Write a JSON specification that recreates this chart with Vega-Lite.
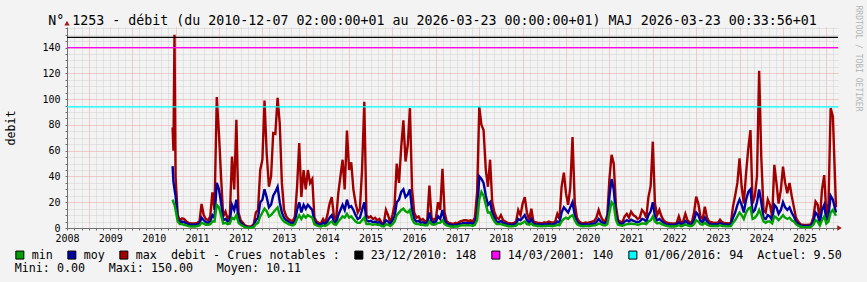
{
  "$schema": "https://vega.github.io/schema/vega-lite/v6.json",
  "width": 771,
  "height": 201,
  "autosize": {"type": "none"},
  "padding": {"left": 67, "top": 27, "right": 29, "bottom": 54},
  "background": "#f3f3f3",
  "config": {"view": {"stroke": null, "fill": "#ffffff"}, "font": "DejaVu Sans Mono"},
  "title": {
    "text": "N° 1253 - débit (du 2010-12-07 02:00:00+01 au 2026-03-23 00:00:00+01) MAJ 2026-03-23 00:33:56+01",
    "font": "DejaVu Sans Mono", "fontSize": 13.3, "fontWeight": "normal", "color": "#000000",
    "anchor": "middle", "frame": "group", "dx": -20, "dy": 24, "offset": 2
  },
  "datasets": {
    "flows": [
      {"date":"2010-12-07","max":78,"moy":48,"min":22},
      {"date":"2010-12-14","max":60,"moy":36,"min":20},
      {"date":"2010-12-23","max":150,"moy":30,"min":18},
      {"date":"2011-01-01","max":40,"moy":25,"min":14},
      {"date":"2011-01-19","max":10,"moy":7,"min":5},
      {"date":"2011-02-06","max":6,"moy":4.5,"min":3},
      {"date":"2011-02-25","max":7.5,"moy":5,"min":3},
      {"date":"2011-03-15","max":7,"moy":4.5,"min":2.5},
      {"date":"2011-04-02","max":5,"moy":3.5,"min":2},
      {"date":"2011-04-20","max":4,"moy":3,"min":1.5},
      {"date":"2011-05-09","max":3.5,"moy":2.5,"min":1.2},
      {"date":"2011-05-27","max":3.5,"moy":2.5,"min":1.2},
      {"date":"2011-06-14","max":3.5,"moy":2.5,"min":1.2},
      {"date":"2011-07-02","max":4,"moy":2.8,"min":1.5},
      {"date":"2011-07-21","max":5,"moy":3.5,"min":2},
      {"date":"2011-08-08","max":18.7,"moy":8,"min":4},
      {"date":"2011-08-26","max":10,"moy":6,"min":3.5},
      {"date":"2011-09-13","max":7,"moy":4.5,"min":2.5},
      {"date":"2011-10-02","max":6,"moy":4,"min":2.5},
      {"date":"2011-10-20","max":9,"moy":5,"min":3},
      {"date":"2011-11-07","max":27.7,"moy":10,"min":5},
      {"date":"2011-11-25","max":14,"moy":8,"min":5},
      {"date":"2011-12-14","max":101.6,"moy":35,"min":18},
      {"date":"2012-01-01","max":73.6,"moy":30,"min":16},
      {"date":"2012-01-19","max":40,"moy":20,"min":10},
      {"date":"2012-02-06","max":9,"moy":6,"min":3.5},
      {"date":"2012-02-25","max":12.7,"moy":7,"min":4},
      {"date":"2012-03-15","max":7,"moy":5,"min":3},
      {"date":"2012-04-02","max":10,"moy":6,"min":3.5},
      {"date":"2012-04-20","max":55.5,"moy":18,"min":8},
      {"date":"2012-05-09","max":30,"moy":14,"min":7},
      {"date":"2012-05-27","max":84,"moy":22,"min":10},
      {"date":"2012-06-14","max":12,"moy":7,"min":4},
      {"date":"2012-07-02","max":6,"moy":4,"min":2.5},
      {"date":"2012-07-21","max":4,"moy":2.5,"min":1.5},
      {"date":"2012-08-08","max":2,"moy":1.2,"min":0.5},
      {"date":"2012-08-26","max":1.5,"moy":0.8,"min":0.3},
      {"date":"2012-09-13","max":1.2,"moy":0.6,"min":0.2},
      {"date":"2012-10-02","max":1.5,"moy":0.8,"min":0.3},
      {"date":"2012-10-20","max":3,"moy":1.8,"min":0.8},
      {"date":"2012-11-07","max":12,"moy":6,"min":3},
      {"date":"2012-11-25","max":14,"moy":8,"min":4},
      {"date":"2012-12-14","max":45,"moy":20,"min":9},
      {"date":"2013-01-01","max":53,"moy":22,"min":12},
      {"date":"2013-01-19","max":99,"moy":30,"min":15},
      {"date":"2013-02-06","max":58,"moy":24,"min":13},
      {"date":"2013-02-25","max":32,"moy":16,"min":9},
      {"date":"2013-03-15","max":40,"moy":18,"min":10},
      {"date":"2013-04-02","max":73.6,"moy":25,"min":12},
      {"date":"2013-04-20","max":73,"moy":28,"min":14},
      {"date":"2013-05-09","max":101,"moy":32,"min":16},
      {"date":"2013-05-27","max":81,"moy":20,"min":10},
      {"date":"2013-06-14","max":35,"moy":12,"min":7},
      {"date":"2013-07-02","max":14,"moy":8,"min":5},
      {"date":"2013-07-21","max":9,"moy":6,"min":4},
      {"date":"2013-08-08","max":7,"moy":5,"min":3},
      {"date":"2013-08-26","max":6,"moy":4,"min":2.5},
      {"date":"2013-09-13","max":5,"moy":3.5,"min":2},
      {"date":"2013-10-02","max":9,"moy":5,"min":3},
      {"date":"2013-10-20","max":32,"moy":14,"min":7},
      {"date":"2013-11-07","max":66,"moy":20,"min":10},
      {"date":"2013-11-25","max":24,"moy":12,"min":7},
      {"date":"2013-12-14","max":45,"moy":18,"min":10},
      {"date":"2014-01-01","max":30,"moy":15,"min":8},
      {"date":"2014-01-19","max":45,"moy":18,"min":10},
      {"date":"2014-02-06","max":35,"moy":16,"min":9},
      {"date":"2014-02-25","max":38,"moy":14,"min":8},
      {"date":"2014-03-15","max":8,"moy":5,"min":3},
      {"date":"2014-04-02","max":5,"moy":3.5,"min":2},
      {"date":"2014-04-20","max":4,"moy":2.8,"min":1.5},
      {"date":"2014-05-09","max":3.6,"moy":2.5,"min":1.2},
      {"date":"2014-05-27","max":7,"moy":4,"min":2},
      {"date":"2014-06-14","max":4,"moy":3,"min":1.5},
      {"date":"2014-07-02","max":10,"moy":5,"min":2.5},
      {"date":"2014-07-21","max":19,"moy":8,"min":4},
      {"date":"2014-08-08","max":24,"moy":10,"min":5},
      {"date":"2014-08-26","max":9,"moy":5,"min":3},
      {"date":"2014-09-13","max":6,"moy":4,"min":2.5},
      {"date":"2014-10-02","max":27,"moy":10,"min":5},
      {"date":"2014-10-20","max":40,"moy":14,"min":7},
      {"date":"2014-11-07","max":53,"moy":18,"min":9},
      {"date":"2014-11-25","max":30,"moy":14,"min":8},
      {"date":"2014-12-14","max":75.7,"moy":22,"min":11},
      {"date":"2015-01-01","max":45,"moy":16,"min":8},
      {"date":"2015-01-19","max":51,"moy":17,"min":9},
      {"date":"2015-02-06","max":30,"moy":14,"min":7},
      {"date":"2015-02-25","max":19,"moy":10,"min":5},
      {"date":"2015-03-15","max":12,"moy":7,"min":4},
      {"date":"2015-04-02","max":15,"moy":8,"min":4},
      {"date":"2015-04-20","max":45,"moy":14,"min":6},
      {"date":"2015-05-09","max":98,"moy":20,"min":8},
      {"date":"2015-05-27","max":10,"moy":6,"min":3},
      {"date":"2015-06-14","max":8,"moy":5,"min":3},
      {"date":"2015-07-02","max":9,"moy":5.5,"min":3},
      {"date":"2015-07-21","max":7,"moy":4.5,"min":2.5},
      {"date":"2015-08-08","max":8,"moy":5,"min":3},
      {"date":"2015-08-26","max":6,"moy":4,"min":2.5},
      {"date":"2015-09-13","max":7,"moy":4.5,"min":2.5},
      {"date":"2015-10-02","max":4,"moy":2.8,"min":1.5},
      {"date":"2015-10-20","max":3.6,"moy":2.5,"min":1.2},
      {"date":"2015-11-07","max":14,"moy":6,"min":3},
      {"date":"2015-11-25","max":10,"moy":5,"min":2.5},
      {"date":"2015-12-14","max":4,"moy":2.8,"min":1.5},
      {"date":"2016-01-01","max":10,"moy":6,"min":3},
      {"date":"2016-01-19","max":18,"moy":9,"min":5},
      {"date":"2016-02-06","max":50,"moy":20,"min":10},
      {"date":"2016-02-25","max":35,"moy":22,"min":12},
      {"date":"2016-03-15","max":63,"moy":28,"min":14},
      {"date":"2016-04-02","max":83.5,"moy":30,"min":15},
      {"date":"2016-04-20","max":51.6,"moy":24,"min":13},
      {"date":"2016-05-09","max":64.6,"moy":26,"min":12},
      {"date":"2016-05-27","max":93,"moy":30,"min":14},
      {"date":"2016-06-14","max":30,"moy":14,"min":7},
      {"date":"2016-07-02","max":12,"moy":7,"min":4},
      {"date":"2016-07-21","max":8,"moy":5,"min":3},
      {"date":"2016-08-08","max":9,"moy":5.5,"min":3},
      {"date":"2016-08-26","max":6,"moy":4,"min":2.5},
      {"date":"2016-09-13","max":7,"moy":4.5,"min":2.5},
      {"date":"2016-10-02","max":5,"moy":3.5,"min":2},
      {"date":"2016-10-20","max":6,"moy":4,"min":2},
      {"date":"2016-11-07","max":33,"moy":12,"min":5},
      {"date":"2016-11-25","max":8,"moy":5,"min":3},
      {"date":"2016-12-14","max":6,"moy":4,"min":2.5},
      {"date":"2017-01-01","max":8,"moy":5,"min":3},
      {"date":"2017-01-19","max":20,"moy":9,"min":4},
      {"date":"2017-02-06","max":14,"moy":7,"min":4},
      {"date":"2017-02-25","max":46,"moy":14,"min":6},
      {"date":"2017-03-15","max":12,"moy":6,"min":3},
      {"date":"2017-04-02","max":5,"moy":3.5,"min":2},
      {"date":"2017-04-20","max":4,"moy":2.8,"min":1.5},
      {"date":"2017-05-09","max":3.6,"moy":2.5,"min":1.2},
      {"date":"2017-05-27","max":3,"moy":2,"min":1},
      {"date":"2017-06-14","max":4,"moy":2.6,"min":1.3},
      {"date":"2017-07-02","max":3.5,"moy":2.4,"min":1.2},
      {"date":"2017-07-21","max":5,"moy":3.2,"min":1.8},
      {"date":"2017-08-08","max":5.5,"moy":3.5,"min":2},
      {"date":"2017-08-26","max":6,"moy":4,"min":2},
      {"date":"2017-09-13","max":6,"moy":4,"min":2.2},
      {"date":"2017-10-02","max":5.5,"moy":3.5,"min":2},
      {"date":"2017-10-20","max":6,"moy":4,"min":2},
      {"date":"2017-11-07","max":5,"moy":3.2,"min":1.8},
      {"date":"2017-11-25","max":8,"moy":4.5,"min":2.5},
      {"date":"2017-12-14","max":28,"moy":12,"min":6},
      {"date":"2018-01-01","max":94,"moy":40,"min":22},
      {"date":"2018-01-19","max":80,"moy":38,"min":28},
      {"date":"2018-02-06","max":76,"moy":35,"min":25},
      {"date":"2018-02-25","max":45,"moy":25,"min":18},
      {"date":"2018-03-15","max":32,"moy":18,"min":12},
      {"date":"2018-04-02","max":53,"moy":20,"min":12},
      {"date":"2018-04-20","max":20,"moy":12,"min":8},
      {"date":"2018-05-09","max":12,"moy":8,"min":5},
      {"date":"2018-05-27","max":8,"moy":5,"min":3},
      {"date":"2018-06-14","max":7,"moy":4.5,"min":3},
      {"date":"2018-07-02","max":10,"moy":5.5,"min":3},
      {"date":"2018-07-21","max":6,"moy":4,"min":2.5},
      {"date":"2018-08-08","max":5,"moy":3.5,"min":2},
      {"date":"2018-08-26","max":4,"moy":2.8,"min":1.5},
      {"date":"2018-09-13","max":3.8,"moy":2.6,"min":1.4},
      {"date":"2018-10-02","max":3.6,"moy":2.5,"min":1.3},
      {"date":"2018-10-20","max":4,"moy":2.8,"min":1.5},
      {"date":"2018-11-07","max":5,"moy":3.3,"min":1.8},
      {"date":"2018-11-25","max":14,"moy":7,"min":3.5},
      {"date":"2018-12-14","max":10,"moy":6,"min":3},
      {"date":"2019-01-01","max":19,"moy":8,"min":4},
      {"date":"2019-01-19","max":24,"moy":10,"min":5},
      {"date":"2019-02-06","max":12,"moy":6,"min":3},
      {"date":"2019-02-25","max":6,"moy":4,"min":2.5},
      {"date":"2019-03-15","max":15,"moy":7,"min":3.5},
      {"date":"2019-04-02","max":5,"moy":3.5,"min":2},
      {"date":"2019-04-20","max":4.5,"moy":3,"min":1.8},
      {"date":"2019-05-09","max":4,"moy":2.8,"min":1.5},
      {"date":"2019-05-27","max":4,"moy":2.8,"min":1.5},
      {"date":"2019-06-14","max":3.6,"moy":2.5,"min":1.3},
      {"date":"2019-07-02","max":4.5,"moy":3,"min":1.6},
      {"date":"2019-07-21","max":4,"moy":2.8,"min":1.5},
      {"date":"2019-08-08","max":5,"moy":3.3,"min":1.8},
      {"date":"2019-08-26","max":4.5,"moy":3,"min":1.6},
      {"date":"2019-09-13","max":4,"moy":2.8,"min":1.5},
      {"date":"2019-10-02","max":5,"moy":3.3,"min":1.8},
      {"date":"2019-10-20","max":11,"moy":5,"min":2.5},
      {"date":"2019-11-07","max":7,"moy":4,"min":2.2},
      {"date":"2019-11-25","max":32,"moy":12,"min":5},
      {"date":"2019-12-14","max":43,"moy":16,"min":7},
      {"date":"2020-01-01","max":27,"moy":14,"min":8},
      {"date":"2020-01-19","max":18,"moy":12,"min":7},
      {"date":"2020-02-06","max":31.6,"moy":16,"min":9},
      {"date":"2020-02-25","max":70.5,"moy":20,"min":10},
      {"date":"2020-03-15","max":19,"moy":10,"min":6},
      {"date":"2020-04-02","max":8,"moy":5,"min":3},
      {"date":"2020-04-20","max":5,"moy":3.5,"min":2},
      {"date":"2020-05-09","max":4,"moy":2.8,"min":1.5},
      {"date":"2020-05-27","max":3.8,"moy":2.6,"min":1.4},
      {"date":"2020-06-14","max":4.2,"moy":2.9,"min":1.5},
      {"date":"2020-07-02","max":4,"moy":2.8,"min":1.5},
      {"date":"2020-07-21","max":4.5,"moy":3,"min":1.6},
      {"date":"2020-08-08","max":5,"moy":3.3,"min":1.8},
      {"date":"2020-08-26","max":5.5,"moy":3.5,"min":2},
      {"date":"2020-09-13","max":8,"moy":4.5,"min":2.5},
      {"date":"2020-10-02","max":14,"moy":7,"min":3.5},
      {"date":"2020-10-20","max":9,"moy":5,"min":3},
      {"date":"2020-11-07","max":6,"moy":4,"min":2.2},
      {"date":"2020-11-25","max":5,"moy":3.4,"min":2},
      {"date":"2020-12-14","max":10,"moy":5.5,"min":3},
      {"date":"2021-01-01","max":38.6,"moy":25,"min":12},
      {"date":"2021-01-19","max":56.8,"moy":38,"min":20},
      {"date":"2021-02-06","max":50,"moy":30,"min":18},
      {"date":"2021-02-25","max":16.6,"moy":10,"min":6},
      {"date":"2021-03-15","max":6,"moy":4,"min":2.5},
      {"date":"2021-04-02","max":5,"moy":3.4,"min":2},
      {"date":"2021-04-20","max":4.5,"moy":3,"min":1.8},
      {"date":"2021-05-09","max":9,"moy":5,"min":2.5},
      {"date":"2021-05-27","max":11,"moy":6,"min":3},
      {"date":"2021-06-14","max":8,"moy":5,"min":3},
      {"date":"2021-07-02","max":12.7,"moy":6.5,"min":3.5},
      {"date":"2021-07-21","max":10,"moy":5.5,"min":3},
      {"date":"2021-08-08","max":9,"moy":5,"min":3},
      {"date":"2021-08-26","max":7,"moy":4.5,"min":2.5},
      {"date":"2021-09-13","max":8,"moy":5,"min":2.8},
      {"date":"2021-10-02","max":14,"moy":7,"min":3.5},
      {"date":"2021-10-20","max":12,"moy":6.5,"min":3.5},
      {"date":"2021-11-07","max":8,"moy":5,"min":3},
      {"date":"2021-11-25","max":24,"moy":10,"min":5},
      {"date":"2021-12-14","max":32.7,"moy":13,"min":6},
      {"date":"2022-01-01","max":67,"moy":20,"min":9},
      {"date":"2022-01-19","max":19,"moy":9,"min":5},
      {"date":"2022-02-06","max":10,"moy":6,"min":3.5},
      {"date":"2022-02-25","max":14,"moy":7,"min":4},
      {"date":"2022-03-15","max":9,"moy":5.5,"min":3},
      {"date":"2022-04-02","max":6,"moy":4,"min":2.5},
      {"date":"2022-04-20","max":4.5,"moy":3,"min":1.8},
      {"date":"2022-05-09","max":4,"moy":2.8,"min":1.5},
      {"date":"2022-05-27","max":3.5,"moy":2.4,"min":1.2},
      {"date":"2022-06-14","max":3.6,"moy":2.5,"min":1.3},
      {"date":"2022-07-02","max":3.4,"moy":2.3,"min":1.2},
      {"date":"2022-07-21","max":4,"moy":2.8,"min":1.4},
      {"date":"2022-08-08","max":9,"moy":4.5,"min":2.3},
      {"date":"2022-08-26","max":4,"moy":2.8,"min":1.4},
      {"date":"2022-09-13","max":5,"moy":3.3,"min":1.8},
      {"date":"2022-10-02","max":11,"moy":5.5,"min":2.8},
      {"date":"2022-10-20","max":6,"moy":4,"min":2},
      {"date":"2022-11-07","max":4.5,"moy":3,"min":1.6},
      {"date":"2022-11-25","max":4,"moy":2.8,"min":1.5},
      {"date":"2022-12-14","max":12,"moy":6,"min":3},
      {"date":"2023-01-01","max":24.4,"moy":12,"min":6},
      {"date":"2023-01-19","max":19,"moy":10,"min":5},
      {"date":"2023-02-06","max":9,"moy":5.5,"min":3},
      {"date":"2023-02-25","max":7,"moy":4.5,"min":2.5},
      {"date":"2023-03-15","max":16.6,"moy":8,"min":4},
      {"date":"2023-04-02","max":8,"moy":5,"min":2.8},
      {"date":"2023-04-20","max":5,"moy":3.3,"min":1.8},
      {"date":"2023-05-09","max":4.5,"moy":3,"min":1.6},
      {"date":"2023-05-27","max":4,"moy":2.8,"min":1.5},
      {"date":"2023-06-14","max":4.2,"moy":2.9,"min":1.5},
      {"date":"2023-07-02","max":4,"moy":2.8,"min":1.5},
      {"date":"2023-07-21","max":6.5,"moy":4,"min":2.2},
      {"date":"2023-08-08","max":4.5,"moy":3,"min":1.6},
      {"date":"2023-08-26","max":4,"moy":2.8,"min":1.5},
      {"date":"2023-09-13","max":3.8,"moy":2.6,"min":1.4},
      {"date":"2023-10-02","max":3.6,"moy":2.5,"min":1.3},
      {"date":"2023-10-20","max":4,"moy":2.8,"min":1.5},
      {"date":"2023-11-07","max":16.6,"moy":8,"min":4},
      {"date":"2023-11-25","max":25,"moy":12,"min":6},
      {"date":"2023-12-14","max":35,"moy":18,"min":9},
      {"date":"2024-01-01","max":54,"moy":22,"min":12},
      {"date":"2024-01-19","max":32,"moy":18,"min":10},
      {"date":"2024-02-06","max":19,"moy":12,"min":7},
      {"date":"2024-02-25","max":42.5,"moy":22,"min":12},
      {"date":"2024-03-15","max":62,"moy":28,"min":15},
      {"date":"2024-04-02","max":76,"moy":30,"min":16},
      {"date":"2024-04-20","max":19,"moy":12,"min":7},
      {"date":"2024-05-09","max":25,"moy":14,"min":8},
      {"date":"2024-05-27","max":40,"moy":20,"min":10},
      {"date":"2024-06-14","max":122,"moy":30,"min":14},
      {"date":"2024-07-02","max":55,"moy":20,"min":10},
      {"date":"2024-07-21","max":14,"moy":8,"min":5},
      {"date":"2024-08-08","max":12,"moy":7,"min":4},
      {"date":"2024-08-26","max":22,"moy":10,"min":5},
      {"date":"2024-09-13","max":18,"moy":9,"min":5},
      {"date":"2024-10-02","max":9,"moy":6,"min":3.5},
      {"date":"2024-10-20","max":49,"moy":18,"min":9},
      {"date":"2024-11-07","max":35,"moy":16,"min":8},
      {"date":"2024-11-25","max":19,"moy":11,"min":6},
      {"date":"2024-12-14","max":29.6,"moy":14,"min":8},
      {"date":"2025-01-01","max":47.7,"moy":20,"min":10},
      {"date":"2025-01-19","max":35,"moy":16,"min":8},
      {"date":"2025-02-06","max":27,"moy":14,"min":7},
      {"date":"2025-02-25","max":35,"moy":16,"min":8},
      {"date":"2025-03-15","max":25,"moy":12,"min":6},
      {"date":"2025-04-02","max":16.6,"moy":9,"min":5},
      {"date":"2025-04-20","max":8,"moy":5,"min":3},
      {"date":"2025-05-09","max":5,"moy":3.3,"min":1.8},
      {"date":"2025-05-27","max":3,"moy":2,"min":1},
      {"date":"2025-06-14","max":2.5,"moy":1.7,"min":0.8},
      {"date":"2025-07-02","max":2.3,"moy":1.5,"min":0.7},
      {"date":"2025-07-21","max":2.3,"moy":1.5,"min":0.7},
      {"date":"2025-08-08","max":2.5,"moy":1.6,"min":0.8},
      {"date":"2025-08-26","max":3,"moy":2,"min":1},
      {"date":"2025-09-13","max":8,"moy":5,"min":2.5},
      {"date":"2025-10-02","max":20.5,"moy":12,"min":6},
      {"date":"2025-10-20","max":18,"moy":10,"min":5},
      {"date":"2025-11-07","max":6,"moy":4,"min":2},
      {"date":"2025-11-25","max":29.6,"moy":14,"min":6},
      {"date":"2025-12-14","max":41,"moy":18,"min":9},
      {"date":"2026-01-01","max":10,"moy":6,"min":3.5},
      {"date":"2026-01-19","max":19,"moy":10,"min":5},
      {"date":"2026-02-06","max":93,"moy":25,"min":12},
      {"date":"2026-02-25","max":86.6,"moy":22,"min":14},
      {"date":"2026-03-23","max":16,"moy":12,"min":9.5}
    ],
    "seuils": [
      {"serie": "23/12/2010: 148", "v": 148},
      {"serie": "14/03/2001: 140", "v": 140},
      {"serie": "01/06/2016: 94\u2007\u2007Actuel: 9.50", "v": 94}
    ],
    "legende": [
      {"serie": "min"},
      {"serie": "moy"},
      {"serie": "max\u2007\u2007debit - Crues notables :"},
      {"serie": "23/12/2010: 148"},
      {"serie": "14/03/2001: 140"},
      {"serie": "01/06/2016: 94\u2007\u2007Actuel: 9.50"}
    ],
    "stats": [
      {"stat": "Mini: 0.00"},
      {"stat": "Maxi: 150.00"},
      {"stat": "Moyen: 10.11"}
    ],
    "fleches": [
      {"sens": "haut"},
      {"sens": "droite"}
    ]
  },
  "resolve": {"axis": {"x": "independent", "y": "independent"}},
  "layer": [
    {
      "data": {"name": "flows"},
      "mark": {"type": "line", "color": "#a00000", "strokeWidth": 2.4},
      "encoding": {
        "x": {
          "field": "date", "type": "temporal",
          "scale": {"type": "utc", "domain": [{"year": 2008, "month": 7, "date": 1, "utc": true}, {"year": 2026, "month": 4, "date": 9, "utc": true}]},
          "axis": {
            "orient": "bottom", "title": null,
            "tickCount": {"interval": "month", "step": 2},
            "labelExpr": "utcmonth(datum.value) === 6 ? utcFormat(datum.value, '%Y') : ''",
            "labelOverlap": false, "labelFlush": false, "labelAngle": 0,
            "labelFont": "DejaVu Sans Mono", "labelFontSize": 10, "labelColor": "#000000", "labelPadding": 3,
            "tickSize": 2, "tickColor": "#707070", "domainColor": "#707070",
            "grid": true, "gridDash": [1, 1],
            "gridColor": {"condition": {"test": "utcmonth(datum.value) === 0", "value": "#e8a0a0"}, "value": "#d0d0d0"}
          }
        },
        "y": {
          "field": "max", "type": "quantitative",
          "scale": {"domain": [0, 156], "nice": false, "zero": true},
          "axis": {
            "orient": "left",
            "values": [0,5,10,15,20,25,30,35,40,45,50,55,60,65,70,75,80,85,90,95,100,105,110,115,120,125,130,135,140,145,150,155],
            "labelExpr": "datum.value % 20 === 0 ? datum.label : ''",
            "labelOverlap": false,
            "labelFont": "DejaVu Sans Mono", "labelFontSize": 10, "labelColor": "#000000", "labelPadding": 5,
            "tickSize": 2, "tickColor": "#707070", "domainColor": "#707070",
            "grid": true, "gridDash": [1, 1],
            "gridColor": {"condition": {"test": "datum.value % 20 === 0", "value": "#e8a0a0"}, "value": "#d0d0d0"},
            "title": "debit", "titleFont": "DejaVu Sans Mono", "titleFontSize": 11.7, "titleFontWeight": "normal",
            "titleColor": "#000000", "titlePadding": 25
          }
        }
      }
    },
    {
      "data": {"name": "flows"},
      "mark": {"type": "line", "color": "#0000a0", "strokeWidth": 2.4},
      "encoding": {
        "x": {"field": "date", "type": "temporal", "scale": {"type": "utc", "domain": [{"year": 2008, "month": 7, "date": 1, "utc": true}, {"year": 2026, "month": 4, "date": 9, "utc": true}]}, "axis": null},
        "y": {"field": "moy", "type": "quantitative", "scale": {"domain": [0, 156], "nice": false, "zero": true}, "axis": null}
      }
    },
    {
      "data": {"name": "flows"},
      "mark": {"type": "line", "color": "#00a000", "strokeWidth": 2.4},
      "encoding": {
        "x": {"field": "date", "type": "temporal", "scale": {"type": "utc", "domain": [{"year": 2008, "month": 7, "date": 1, "utc": true}, {"year": 2026, "month": 4, "date": 9, "utc": true}]}, "axis": null},
        "y": {"field": "min", "type": "quantitative", "scale": {"domain": [0, 156], "nice": false, "zero": true}, "axis": null}
      }
    },
    {
      "data": {"name": "seuils"},
      "mark": {"type": "rule", "strokeWidth": 1.2},
      "encoding": {
        "y": {
          "field": "v", "type": "quantitative", "scale": {"domain": [0, 156], "nice": false, "zero": true},
          "axis": {
            "orient": "right", "labels": false, "ticks": false, "domain": false, "grid": false,
            "title": "RRDTOOL / TOBI OETIKER", "titleAngle": 90, "titleAlign": "left", "titleBaseline": "middle",
            "titleX": 19, "titleY": -22, "titleColor": "#b4b4b4", "titleFont": "DejaVu Sans Mono",
            "titleFontSize": 8, "titleFontWeight": "normal"
          }
        },
        "stroke": {
          "field": "serie", "type": "nominal",
          "scale": {"domain": ["23/12/2010: 148", "14/03/2001: 140", "01/06/2016: 94\u2007\u2007Actuel: 9.50"], "range": ["#000000", "#ff00ff", "#00ffff"]},
          "legend": null
        }
      }
    },
    {
      "data": {"name": "fleches"},
      "transform": [{"filter": "datum.sens === 'haut'"}],
      "mark": {"type": "point", "shape": "triangle-up", "filled": true, "color": "#a01818", "size": 28, "opacity": 1},
      "encoding": {
        "x": {"datum": {"year": 2008, "month": 7, "date": 1, "utc": true}, "type": "temporal", "scale": {"type": "utc", "domain": [{"year": 2008, "month": 7, "date": 1, "utc": true}, {"year": 2026, "month": 4, "date": 9, "utc": true}]}, "axis": null},
        "y": {"datum": 159, "type": "quantitative", "scale": {"domain": [0, 156], "nice": false, "zero": true}, "axis": null}
      }
    },
    {
      "data": {"name": "fleches"},
      "transform": [{"filter": "datum.sens === 'droite'"}],
      "mark": {"type": "point", "shape": "triangle-right", "filled": true, "color": "#a01818", "size": 28, "opacity": 1},
      "encoding": {
        "x": {"datum": {"year": 2026, "month": 4, "date": 22, "utc": true}, "type": "temporal", "scale": {"type": "utc", "domain": [{"year": 2008, "month": 7, "date": 1, "utc": true}, {"year": 2026, "month": 4, "date": 9, "utc": true}]}, "axis": null},
        "y": {"datum": 0, "type": "quantitative", "scale": {"domain": [0, 156], "nice": false, "zero": true}, "axis": null}
      }
    },
    {
      "data": {"name": "legende"},
      "mark": {"type": "point", "filled": true, "shape": "square", "opacity": 0},
      "encoding": {
        "fill": {
          "field": "serie", "type": "nominal",
          "scale": {
            "domain": ["min", "moy", "max\u2007\u2007debit - Crues notables :", "23/12/2010: 148", "14/03/2001: 140", "01/06/2016: 94\u2007\u2007Actuel: 9.50"],
            "range": ["#00a000", "#0000a0", "#a00000", "#000000", "#ff00ff", "#00ffff"]
          },
          "legend": {
            "orient": "none", "legendX": -53, "legendY": 222, "direction": "horizontal", "columns": 6,
            "columnPadding": 12, "padding": 0, "title": null,
            "symbolType": "square", "symbolSize": 64, "symbolStrokeColor": "#000000", "symbolStrokeWidth": 1, "symbolOpacity": 1,
            "labelFont": "DejaVu Sans Mono", "labelFontSize": 11.7, "labelColor": "#000000", "labelOffset": 6, "labelLimit": 600
          }
        }
      }
    },
    {
      "data": {"name": "stats"},
      "mark": {"type": "point", "filled": true, "shape": "square", "opacity": 0},
      "encoding": {
        "shape": {
          "field": "stat", "type": "nominal",
          "scale": {"domain": ["Mini: 0.00", "Maxi: 150.00", "Moyen: 10.11"], "range": ["square", "square", "square"]},
          "legend": {
            "orient": "none", "legendX": -64, "legendY": 235, "direction": "horizontal", "columns": 3,
            "columnPadding": 11, "padding": 0, "title": null,
            "symbolSize": 0, "symbolOpacity": 0, "symbolStrokeWidth": 0,
            "labelFont": "DejaVu Sans Mono", "labelFontSize": 11.7, "labelColor": "#000000", "labelOffset": 0, "labelLimit": 600
          }
        }
      }
    }
  ]
}
